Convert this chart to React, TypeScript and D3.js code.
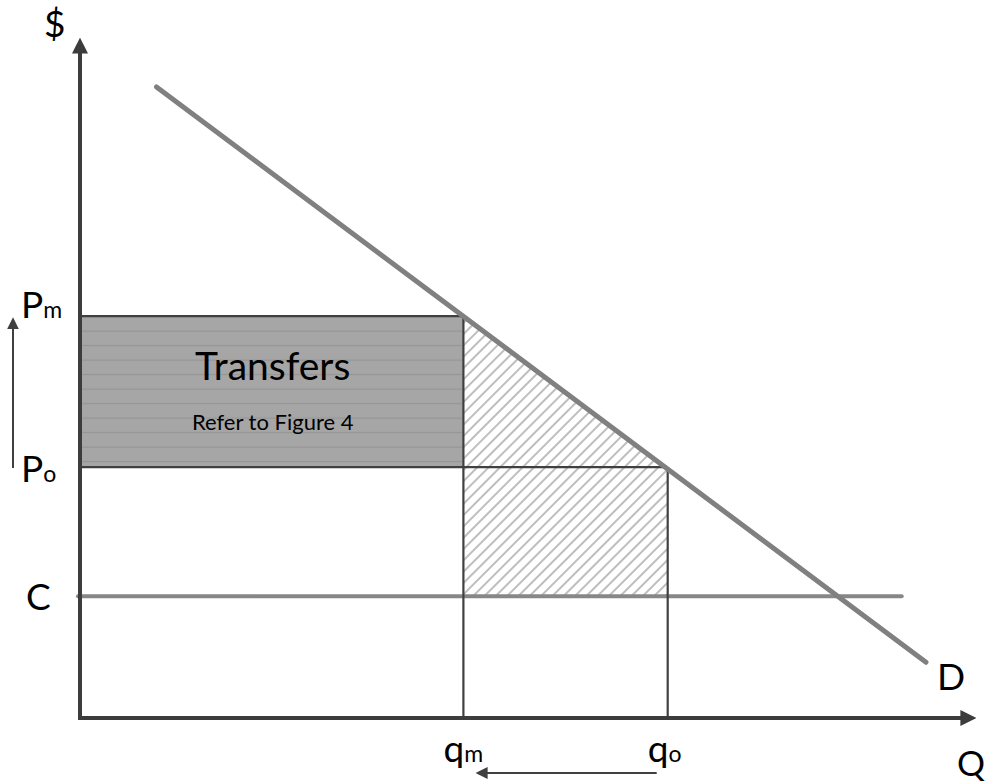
import * as d3 from "d3";
import { useEffect, useRef } from "react";

// Values in chart units (Q and $ both run 0..100)
const demandQ = [8.5, 94.0];
const demandP = [92.8, 8.2];
const priceLevels = [59.1, 36.9, 17.9]; // Pm, Po, C
const priceNames = [
  ["P", "m"],
  ["P", "o"],
  ["C", ""],
];
const quantityLevels = [42.6, 65.3]; // qm, qo
const quantityNames = [
  ["q", "m"],
  ["q", "o"],
];
const costLineEnd = 91.3;

const COLORS = {
  axis: "#3c3c3c",
  frame: "#404040",
  demand: "#808080",
  cost: "#878787",
  transfers: "#a6a6a6",
  transferLines: "#959595",
  hatch: "#9a9a9a",
  text: "#000000",
};

const FONT = "Lato, 'Open Sans', sans-serif";

const App = () => {
  const svgRef = useRef(null);

  const generatePlot = () => {
    const width = 988;
    const height = 783;

    const svgEl = d3.select(svgRef.current);
    svgEl.selectAll("*").remove();
    svgEl.attr("width", width).attr("height", height);

    const x = d3.scaleLinear().domain([0, 100]).range([80, 980]);
    const y = d3.scaleLinear().domain([0, 100]).range([718, 38]);

    const [pm, po, c] = priceLevels;
    const [qm, qo] = quantityLevels;

    const defs = svgEl.append("defs");

    // horizontal-line fill for the transfers box
    const hl = defs
      .append("pattern")
      .attr("id", "hlines")
      .attr("patternUnits", "userSpaceOnUse")
      .attr("width", 20)
      .attr("height", 14.5)
      .attr("y", y(pm) + 2);
    hl.append("rect")
      .attr("width", 20)
      .attr("height", 14.5)
      .attr("fill", COLORS.transfers);
    hl.append("line")
      .attr("x1", 0)
      .attr("x2", 20)
      .attr("y1", 13)
      .attr("y2", 13)
      .attr("stroke", COLORS.transferLines)
      .attr("stroke-width", 1.2);

    // diagonal hatch
    const hatch = defs
      .append("pattern")
      .attr("id", "hatch")
      .attr("patternUnits", "userSpaceOnUse")
      .attr("width", 8)
      .attr("height", 8)
      .attr("patternTransform", "rotate(-45)");
    hatch
      .append("line")
      .attr("x1", 0)
      .attr("x2", 8)
      .attr("y1", 4)
      .attr("y2", 4)
      .attr("stroke", COLORS.hatch)
      .attr("stroke-width", 1.3);

    const addMarker = (id, color, w, h) => {
      defs
        .append("marker")
        .attr("id", id)
        .attr("viewBox", "0 0 10 10")
        .attr("refX", 1)
        .attr("refY", 5)
        .attr("markerUnits", "userSpaceOnUse")
        .attr("markerWidth", w)
        .attr("markerHeight", h)
        .attr("orient", "auto")
        .append("path")
        .attr("d", "M0,0 L10,5 L0,10 z")
        .attr("fill", color);
    };
    addMarker("axisHead", COLORS.axis, 16, 17);
    addMarker("smallHead", "#404040", 12, 13);

    // Transfers box
    svgEl
      .append("rect")
      .attr("x", x(0))
      .attr("y", y(pm))
      .attr("width", x(qm) - x(0))
      .attr("height", y(po) - y(pm))
      .attr("fill", "url(#hlines)");

    // Deadweight hatch: triangle plus rectangle down to C
    svgEl
      .append("path")
      .attr(
        "d",
        d3.line()([
          [x(qm), y(pm)],
          [x(qo), y(po)],
          [x(qo), y(c)],
          [x(qm), y(c)],
        ]) + "Z"
      )
      .attr("fill", "url(#hatch)");

    // Cost line
    svgEl
      .append("line")
      .attr("x1", x(0) - 2)
      .attr("x2", x(costLineEnd))
      .attr("y1", y(c))
      .attr("y2", y(c))
      .attr("stroke", COLORS.cost)
      .attr("stroke-width", 4)
      .attr("stroke-linecap", "round");

    // Price and quantity guide lines
    const guides = [
      [x(0), y(pm), x(qm), y(pm)],
      [x(0), y(po), x(qo), y(po)],
      [x(qm), y(pm), x(qm), y(0)],
      [x(qo), y(po), x(qo), y(0)],
    ];
    svgEl
      .selectAll(".guide")
      .data(guides)
      .enter()
      .append("line")
      .attr("class", "guide")
      .attr("x1", (d) => d[0])
      .attr("y1", (d) => d[1])
      .attr("x2", (d) => d[2])
      .attr("y2", (d) => d[3])
      .attr("stroke", COLORS.frame)
      .attr("stroke-width", 2.2);

    // Demand curve
    svgEl
      .append("path")
      .attr(
        "d",
        d3.line()(demandQ.map((q, i) => [x(q), y(demandP[i])]))
      )
      .attr("stroke", COLORS.demand)
      .attr("stroke-width", 5)
      .attr("stroke-linecap", "round")
      .attr("fill", "none");

    // Axes
    svgEl
      .append("line")
      .attr("x1", x(0))
      .attr("y1", y(0) + 2)
      .attr("x2", x(0))
      .attr("y2", 52)
      .attr("stroke", COLORS.axis)
      .attr("stroke-width", 4)
      .attr("marker-end", "url(#axisHead)");
    svgEl
      .append("line")
      .attr("x1", x(0) - 2)
      .attr("y1", y(0))
      .attr("x2", 962)
      .attr("y2", y(0))
      .attr("stroke", COLORS.axis)
      .attr("stroke-width", 4)
      .attr("marker-end", "url(#axisHead)");

    // Price change arrow (Po -> Pm) and quantity change arrow (qo -> qm)
    svgEl
      .append("line")
      .attr("x1", 13)
      .attr("y1", y(po) + 1)
      .attr("x2", 13)
      .attr("y2", y(pm) + 12)
      .attr("stroke", "#404040")
      .attr("stroke-width", 2)
      .attr("marker-end", "url(#smallHead)");
    svgEl
      .append("line")
      .attr("x1", x(qo) - 11)
      .attr("y1", 773)
      .attr("x2", x(qm) + 23)
      .attr("y2", 773)
      .attr("stroke", "#404040")
      .attr("stroke-width", 2)
      .attr("marker-end", "url(#smallHead)");

    const addLabel = (px, py, main, sub, size, subSize) => {
      const t = svgEl
        .append("text")
        .attr("x", px)
        .attr("y", py)
        .attr("font-family", FONT)
        .attr("font-size", size)
        .attr("fill", COLORS.text);
      t.append("tspan").text(main);
      if (sub) t.append("tspan").attr("font-size", subSize).text(sub);
    };

    // Price labels on the left
    const priceLabelY = [y(pm) + 2, y(po) + 15, y(c) + 14];
    const priceLabelX = [21, 21, 26];
    priceLevels.forEach((_, i) => {
      addLabel(
        priceLabelX[i],
        priceLabelY[i],
        priceNames[i][0],
        priceNames[i][1],
        "37px",
        "23px"
      );
    });

    // Quantity labels under the axis
    quantityLevels.forEach((q, i) => {
      addLabel(
        x(q) - 20,
        762,
        quantityNames[i][0],
        quantityNames[i][1],
        "37px",
        "23px"
      );
    });

    addLabel(44, 37, "$", "", "37px", "");
    addLabel(937, 690, "D", "", "37px", "");
    addLabel(957, 776, "Q", "", "35px", "");

    // Box text
    const boxCx = (x(0) + x(qm)) / 2 + 1;
    svgEl
      .append("text")
      .attr("x", boxCx)
      .attr("y", 380)
      .attr("text-anchor", "middle")
      .attr("font-family", FONT)
      .attr("font-size", "39px")
      .attr("fill", COLORS.text)
      .text("Transfers");
    svgEl
      .append("text")
      .attr("x", boxCx)
      .attr("y", 430)
      .attr("text-anchor", "middle")
      .attr("font-family", FONT)
      .attr("font-size", "22px")
      .attr("fill", COLORS.text)
      .text("Refer to Figure 4");
  };

  useEffect(() => {
    generatePlot();
  }, []);

  return (
    <svg
      ref={svgRef}
      style={{ position: "absolute", left: 0, top: 0, background: "#fff" }}
    />
  );
};

export default App;
